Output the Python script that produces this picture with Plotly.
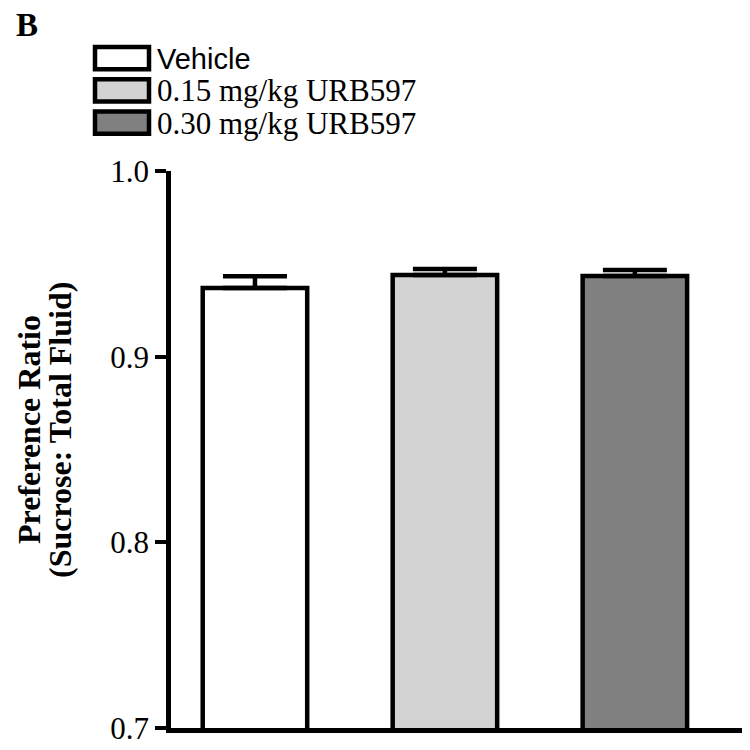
import plotly.graph_objects as go

categories = ["Vehicle", "0.15 mg/kg URB597", "0.30 mg/kg URB597"]
means = [0.937, 0.944, 0.9435]
errors = [0.0063, 0.0032, 0.0032]
colors = ["#ffffff", "#d3d3d3", "#808080"]
y_ticks = [0.7, 0.8, 0.9, 1.0]
y_tick_labels = ["0.7", "0.8", "0.9", "1.0"]
y_title_lines = ["Preference Ratio", "(Sucrose: Total Fluid)"]

W, H = 750, 750
L, R, T, B = 163, 12, 163, 17

def px_x(px):
    return (px - L) / (W - L - R)

def px_y(py):
    return (H - B - py) / (H - T - B)

fig = go.Figure()
fig.add_trace(go.Bar(
    x=list(range(len(categories))), y=means, base=0,
    marker=dict(color=colors, line=dict(color="black", width=4.5)),
    width=0.55,
    error_y=dict(type="data", array=errors, arrayminus=[0]*len(errors),
                 symmetric=False, color="black", thickness=4.5, width=32),
    showlegend=False,
))

serif = "Liberation Serif"
shapes = []
annotations = []
box_tops = [36, 69, 102]
for i, (name, col) in enumerate(zip(categories, colors)):
    y0 = box_tops[i]
    shapes.append(dict(type="rect", xref="paper", yref="paper",
                       x0=px_x(87), x1=px_x(141), y0=px_y(y0 + 23), y1=px_y(y0),
                       fillcolor=col, line=dict(color="black", width=4.5)))
    if i == 0:
        fnt = dict(family="Liberation Sans", size=29, color="black")
    else:
        fnt = dict(family=serif, size=31, color="black")
    annotations.append(dict(text=name, xref="paper", yref="paper",
                            x=px_x(148), y=px_y(y0 + 12), xanchor="left", yanchor="middle",
                            showarrow=False, font=fnt, borderpad=0))
annotations.append(dict(text="<b>B</b>", xref="paper", yref="paper",
                        x=px_x(6), y=px_y(-7), xanchor="left", yanchor="top",
                        showarrow=False, font=dict(family=serif, size=33, color="black")))
for xc, line in zip([21, 52], y_title_lines):
    annotations.append(dict(text="<b>" + line + "</b>", xref="paper", yref="paper",
                            x=px_x(xc), y=px_y(428), xanchor="center", yanchor="middle",
                            textangle=-90, showarrow=False, borderpad=0,
                            font=dict(family=serif, size=32, color="black")))

fig.update_layout(
    width=W, height=H,
    margin=dict(l=L, r=R, t=T, b=B),
    paper_bgcolor="white", plot_bgcolor="white",
    shapes=shapes, annotations=annotations,
    xaxis=dict(range=[-0.442, 2.585], showticklabels=False, ticks="",
               showline=True, linecolor="black", linewidth=4.5, showgrid=False,
               zeroline=False, fixedrange=True),
    yaxis=dict(range=[0.7, 1.0], tickvals=y_ticks, ticktext=y_tick_labels,
               ticks="outside", ticklen=11, tickwidth=4, tickcolor="black",
               showline=True, linecolor="black", linewidth=4.5, showgrid=False,
               zeroline=False, ticklabeloverflow="allow",
               tickfont=dict(family=serif, size=31, color="black")),
)

fig.write_html("out.html")
